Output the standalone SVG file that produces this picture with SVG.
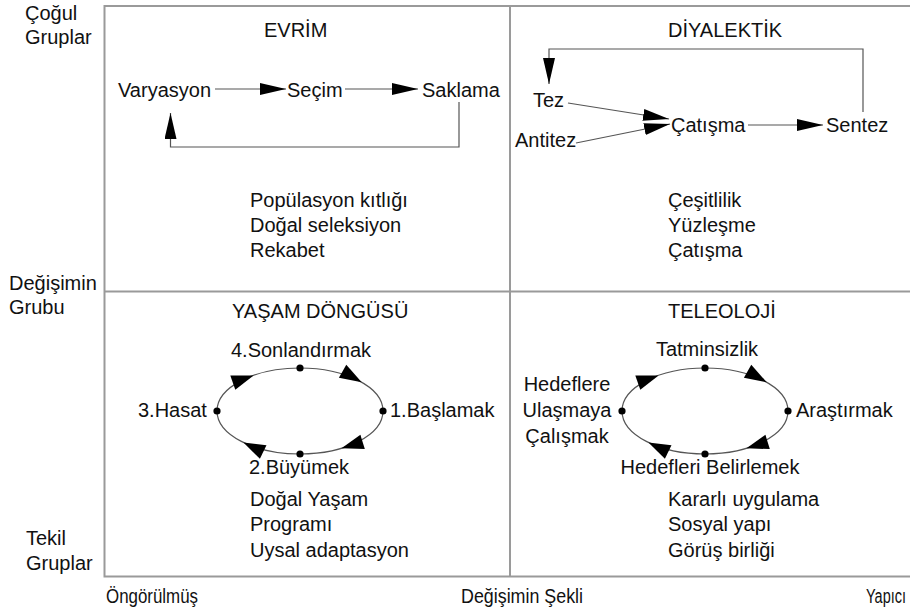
<svg xmlns="http://www.w3.org/2000/svg" width="910" height="614" viewBox="0 0 910 614">
  <style>
    text { font-family: "Liberation Sans", Arial, sans-serif; font-size: 20px; fill: #111; }
    .mid { text-anchor: middle; }
    .frame { fill: none; stroke: #9a9a9a; stroke-width: 2; }
    .link { fill: none; stroke: #555; stroke-width: 1.2; }
    .cycle { fill: none; stroke: #555; stroke-width: 1.2; }
    .head { fill: #000; }
    .dot { fill: #000; }
  </style>
  <defs>
    <marker id="ah" viewBox="0 0 26 12" refX="26" refY="6" markerWidth="26" markerHeight="12" markerUnits="userSpaceOnUse" orient="auto">
      <path d="M0,0 L26,6 L0,12 z" fill="#000"/>
    </marker>
    <!-- clockwise cycle: ellipse, four arrowheads, four stage dots -->
    <g id="cycleShape">
      <ellipse class="cycle" cx="0" cy="0" rx="83" ry="43"/>
      <polygon class="head" points="-46.4,-35.6 -64.7,-21.3 -69.7,-35.5"/>
      <polygon class="head" points="61.7,-28.8 38.9,-33.3 46.3,-46.3"/>
      <polygon class="head" points="41.5,37.2 60.4,23.7 64.8,38.1"/>
      <polygon class="head" points="-56.6,31.4 -33.5,34.2 -40.1,47.8"/>
      <circle class="dot" cx="0" cy="-43" r="3.6"/>
      <circle class="dot" cx="83" cy="0" r="3.6"/>
      <circle class="dot" cx="-83" cy="0" r="3.6"/>
      <circle class="dot" cx="0" cy="43" r="3.6"/>
    </g>
  </defs>

  <rect width="910" height="614" fill="#fff"/>

  <!-- quadrant frame -->
  <g id="frame">
    <path class="frame" d="M912,6 H104.5 V576.5 H912"/>
    <line class="frame" x1="510" y1="6" x2="510" y2="576.5"/>
    <line class="frame" x1="104.5" y1="291.5" x2="912" y2="291.5"/>
  </g>

  <!-- axis labels -->
  <g id="axis-y">
    <text x="25" y="20">Çoğul</text>
    <text x="25" y="44">Gruplar</text>
    <text x="9" y="290">Değişimin</text>
    <text x="9" y="314">Grubu</text>
    <text x="26" y="545">Tekil</text>
    <text x="26" y="570">Gruplar</text>
  </g>
  <g id="axis-x">
    <text x="106" y="603" textLength="92" lengthAdjust="spacingAndGlyphs">Öngörülmüş</text>
    <text x="461" y="603" textLength="122" lengthAdjust="spacingAndGlyphs">Değişimin Şekli</text>
    <text x="866" y="603" textLength="40" lengthAdjust="spacingAndGlyphs">Yapıcı</text>
  </g>

  <!-- quadrant titles -->
  <g id="titles">
    <text x="264" y="37">EVRİM</text>
    <text x="668" y="37">DİYALEKTİK</text>
    <text x="232" y="318">YAŞAM DÖNGÜSÜ</text>
    <text x="668" y="318">TELEOLOJİ</text>
  </g>

  <!-- Evrim nodes -->
  <g id="varyasyon"><text x="118" y="97">Varyasyon</text></g>
  <g id="secim"><text x="287" y="97">Seçim</text></g>
  <g id="saklama"><text x="422" y="97">Saklama</text></g>

  <!-- Diyalektik nodes -->
  <g id="tez"><text x="533" y="107">Tez</text></g>
  <g id="antitez"><text x="515" y="147">Antitez</text></g>
  <g id="catisma"><text x="671" y="132">Çatışma</text></g>
  <g id="sentez"><text x="826" y="132">Sentez</text></g>

  <!-- Yaşam döngüsü nodes -->
  <g id="sonlandirmak"><text class="mid" x="301" y="357">4.Sonlandırmak</text></g>
  <g id="baslamak"><text x="390" y="417">1.Başlamak</text></g>
  <g id="hasat"><text x="138" y="417">3.Hasat</text></g>
  <g id="buyumek"><text class="mid" x="299" y="474">2.Büyümek</text></g>

  <!-- Teleoloji nodes -->
  <g id="tatminsizlik"><text class="mid" x="707" y="356">Tatminsizlik</text></g>
  <g id="arastirmak"><text x="796" y="417">Araştırmak</text></g>
  <g id="hedeflere">
    <text class="mid" x="567" y="391">Hedeflere</text>
    <text class="mid" x="567" y="417">Ulaşmaya</text>
    <text class="mid" x="567" y="443">Çalışmak</text>
  </g>
  <g id="belirlemek"><text class="mid" x="710" y="474">Hedefleri Belirlemek</text></g>

  <!-- quadrant notes -->
  <g id="notes">
    <text x="250" y="207">Popülasyon kıtlığı</text>
    <text x="250" y="232">Doğal seleksiyon</text>
    <text x="250" y="257">Rekabet</text>
    <text x="668" y="207">Çeşitlilik</text>
    <text x="668" y="232">Yüzleşme</text>
    <text x="668" y="257">Çatışma</text>
    <text x="250" y="506">Doğal Yaşam</text>
    <text x="250" y="531">Programı</text>
    <text x="250" y="557">Uysal adaptasyon</text>
    <text x="668" y="506">Kararlı uygulama</text>
    <text x="668" y="531">Sosyal yapı</text>
    <text x="668" y="557">Görüş birliği</text>
  </g>

  <!-- connectors -->
  <g id="connectors">
    <path class="link" d="M215,89 H286" marker-end="url(#ah)"/>
    <path class="link" d="M345,89 H418" marker-end="url(#ah)"/>
    <path class="link" d="M459,102 V147 H170.5 V113" marker-end="url(#ah)"/>
    <path class="link" d="M863,112 V49 H549 V84" marker-end="url(#ah)"/>
    <path class="link" d="M568,103 L669,119" marker-end="url(#ah)"/>
    <path class="link" d="M576,143 L670,124" marker-end="url(#ah)"/>
    <path class="link" d="M748,125 H823" marker-end="url(#ah)"/>
    <use href="#cycleShape" transform="translate(300,411)"/>
    <use href="#cycleShape" transform="translate(705,411)"/>
  </g>
</svg>
